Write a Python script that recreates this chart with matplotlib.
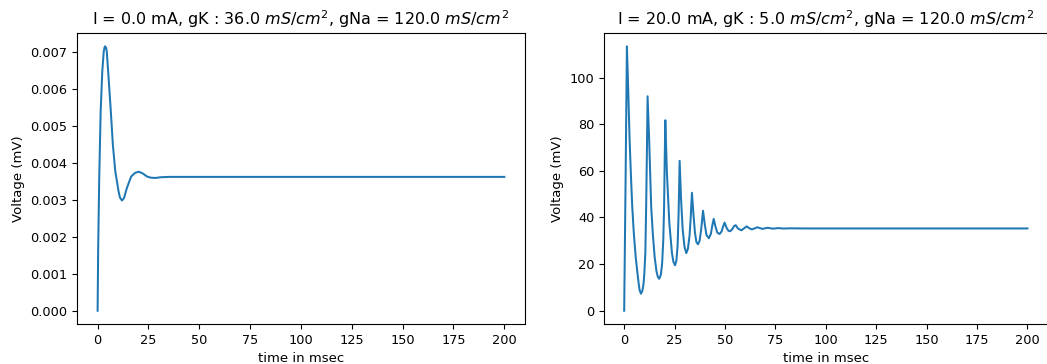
import numpy as np
import matplotlib
matplotlib.use('Agg')
import matplotlib.pyplot as plt

# left panel: I = 0 mA, gK = 36
t_rest = [0, 0.3, 0.8, 1.5, 2.3, 3.0, 3.4, 3.7, 4.1, 4.5, 5.4, 6.5, 7.5, 8.7,
          10.3, 11.0, 12.0, 13.0, 14.4, 16.5, 18.5, 20.2, 22.0, 24.3, 26.0,
          28.3, 31.0, 35.0, 40.0, 50.0, 200.0]
v_rest = [0, 0.00178, 0.00359, 0.00539, 0.00647, 0.00700, 0.00712, 0.00715,
          0.00712, 0.00702, 0.00630, 0.00539, 0.00449, 0.00377, 0.00323, 0.00306,
          0.00298, 0.00305, 0.00332, 0.00363, 0.00373, 0.00376, 0.00372, 0.00363,
          0.00360, 0.00359, 0.00361, 0.00362, 0.00362, 0.00362, 0.00362]

# right panel: I = 20 mA, gK = 5
t_spk = [0, 0.7, 1.35, 2.0, 2.7, 3.4, 4.0, 4.8, 5.7, 6.4, 7.0, 7.6, 8.3,
         9.0, 9.6, 10.0, 10.5, 10.9, 11.3, 11.6,
         12.4, 13.4, 14.2, 15.1, 16.0, 16.7, 17.4,
         18.2, 18.8, 19.4, 19.8, 20.1, 20.4,
         21.2, 22.4, 23.7, 24.4, 25.2,
         25.9, 26.5, 27.0, 27.5,
         28.2, 29.0, 29.9, 30.8,
         31.6, 32.4, 33.0, 33.6,
         34.3, 35.1, 35.8, 36.6,
         37.4, 38.2, 39.1,
         39.9, 40.8, 42.0,
         43.0, 43.7, 44.4,
         45.3, 46.2, 47.3,
         48.3, 49.0, 49.8,
         50.8, 51.7, 52.6,
         53.6, 54.5, 55.3,
         56.5, 58.1, 59.4, 60.7,
         62.0, 63.3, 64.7, 66.0, 68.6, 71.1, 73.8, 76.4, 79.0, 82.0, 90.0, 200.0]
v_spk = [0, 56, 113.4, 95, 73, 57, 44.6, 33, 23.2, 17.5, 13.0, 9.0, 7.3,
         8.5, 11.5, 16, 25, 44.6, 70, 92,
         73, 44.6, 33, 23.2, 17, 14.5, 13.7,
         15.5, 20, 30.4, 45, 65, 81.7,
         58.9, 37.5, 24.7, 21, 19.5,
         21.5, 28, 42, 64.3,
         48, 35, 27.5, 24.7,
         26.5, 32, 40, 50.6,
         42, 33.5, 29.5, 28.5,
         30, 35, 42.9,
         37.5, 32.5, 31.1,
         33.0, 36.5, 39.4,
         36, 33.5, 32.9,
         34.0, 36.0, 37.8,
         35.5, 34.3, 34.1,
         35.0, 36.3, 36.7,
         35.2, 34.5, 35.3, 36.2,
         35.4, 34.9, 35.3, 35.8, 35.1, 35.6, 35.2, 35.45, 35.25, 35.35, 35.3, 35.3]

titles = [r'I = 0.0 mA, gK : 36.0 $mS/cm^2$, gNa = 120.0 $mS/cm^2$',
          r'I = 20.0 mA, gK : 5.0 $mS/cm^2$, gNa = 120.0 $mS/cm^2$']

fig = plt.figure(figsize=(10.47, 3.64), dpi=100)
ax1 = fig.add_axes([0.0738, 0.110, 0.4273, 0.799])
ax2 = fig.add_axes([0.5769, 0.110, 0.4237, 0.799])

for ax, t, v, title in [(ax1, t_rest, v_rest, titles[0]),
                        (ax2, t_spk, v_spk, titles[1])]:
    ax.plot(t, v, color='#1f77b4', linewidth=1.45)
    ax.set_title(title, fontsize=11.5)
    ax.set_xlabel('time in msec', fontsize=9.5)
    ax.set_ylabel('Voltage (mV)', fontsize=9.5)
    ax.set_xticks(np.arange(0, 201, 25))
    ax.tick_params(labelsize=9.3)

ax1.set_yticks(np.arange(0, 0.0071, 0.001))

fig.savefig('out.png', dpi=100)
